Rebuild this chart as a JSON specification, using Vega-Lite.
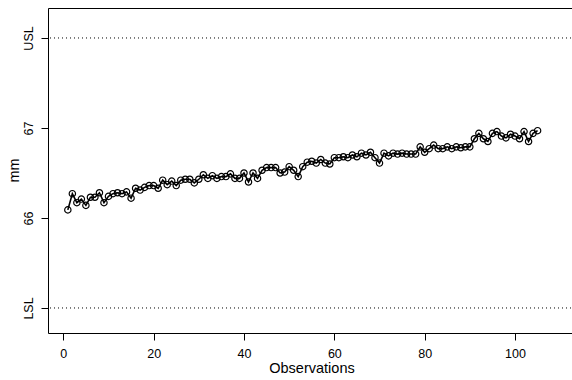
{
  "$schema": "https://vega.github.io/schema/vega-lite/v6.json",
  "autosize": {"type": "none"},
  "padding": {"left": 48, "top": 8, "right": 0, "bottom": 47},
  "width": 527,
  "height": 325,
  "background": "white",
  "config": {
    "font": "Liberation Sans",
    "view": {"stroke": "black", "strokeWidth": 1},
    "axis": {"grid": false, "domain": false, "tickColor": "black", "tickSize": 7, "labelColor": "black", "titleColor": "black", "labelFont": "Liberation Sans", "titleFont": "Liberation Sans", "labelFontSize": 12.5, "titleFontSize": 14.5, "titleFontWeight": "normal"}
  },
  "datasets": {
    "obs": [
      {"obs":1,"mm":66.09},{"obs":2,"mm":66.27},{"obs":3,"mm":66.17},{"obs":4,"mm":66.21},{"obs":5,"mm":66.14},
      {"obs":6,"mm":66.23},{"obs":7,"mm":66.23},{"obs":8,"mm":66.28},{"obs":9,"mm":66.17},{"obs":10,"mm":66.24},
      {"obs":11,"mm":66.27},{"obs":12,"mm":66.28},{"obs":13,"mm":66.27},{"obs":14,"mm":66.29},{"obs":15,"mm":66.22},
      {"obs":16,"mm":66.33},{"obs":17,"mm":66.31},{"obs":18,"mm":66.34},{"obs":19,"mm":66.36},{"obs":20,"mm":66.36},
      {"obs":21,"mm":66.33},{"obs":22,"mm":66.42},{"obs":23,"mm":66.37},{"obs":24,"mm":66.41},{"obs":25,"mm":66.36},
      {"obs":26,"mm":66.42},{"obs":27,"mm":66.43},{"obs":28,"mm":66.43},{"obs":29,"mm":66.39},{"obs":30,"mm":66.43},
      {"obs":31,"mm":66.48},{"obs":32,"mm":66.44},{"obs":33,"mm":66.47},{"obs":34,"mm":66.44},{"obs":35,"mm":66.46},
      {"obs":36,"mm":66.46},{"obs":37,"mm":66.49},{"obs":38,"mm":66.44},{"obs":39,"mm":66.44},{"obs":40,"mm":66.5},
      {"obs":41,"mm":66.4},{"obs":42,"mm":66.5},{"obs":43,"mm":66.44},{"obs":44,"mm":66.53},{"obs":45,"mm":66.56},
      {"obs":46,"mm":66.56},{"obs":47,"mm":66.56},{"obs":48,"mm":66.5},{"obs":49,"mm":66.51},{"obs":50,"mm":66.57},
      {"obs":51,"mm":66.53},{"obs":52,"mm":66.46},{"obs":53,"mm":66.57},{"obs":54,"mm":66.62},{"obs":55,"mm":66.63},
      {"obs":56,"mm":66.61},{"obs":57,"mm":66.65},{"obs":58,"mm":66.61},{"obs":59,"mm":66.6},{"obs":60,"mm":66.67},
      {"obs":61,"mm":66.67},{"obs":62,"mm":66.68},{"obs":63,"mm":66.67},{"obs":64,"mm":66.7},{"obs":65,"mm":66.68},
      {"obs":66,"mm":66.72},{"obs":67,"mm":66.7},{"obs":68,"mm":66.73},{"obs":69,"mm":66.67},{"obs":70,"mm":66.61},
      {"obs":71,"mm":66.72},{"obs":72,"mm":66.69},{"obs":73,"mm":66.72},{"obs":74,"mm":66.71},{"obs":75,"mm":66.72},
      {"obs":76,"mm":66.71},{"obs":77,"mm":66.71},{"obs":78,"mm":66.71},{"obs":79,"mm":66.79},{"obs":80,"mm":66.73},
      {"obs":81,"mm":66.77},{"obs":82,"mm":66.81},{"obs":83,"mm":66.77},{"obs":84,"mm":66.77},{"obs":85,"mm":66.79},
      {"obs":86,"mm":66.77},{"obs":87,"mm":66.79},{"obs":88,"mm":66.78},{"obs":89,"mm":66.79},{"obs":90,"mm":66.79},
      {"obs":91,"mm":66.88},{"obs":92,"mm":66.94},{"obs":93,"mm":66.88},{"obs":94,"mm":66.85},{"obs":95,"mm":66.94},
      {"obs":96,"mm":66.96},{"obs":97,"mm":66.91},{"obs":98,"mm":66.89},{"obs":99,"mm":66.93},{"obs":100,"mm":66.91},
      {"obs":101,"mm":66.88},{"obs":102,"mm":66.96},{"obs":103,"mm":66.85},{"obs":104,"mm":66.94},{"obs":105,"mm":66.97}
    ],
    "limits": [{"name":"LSL","limit":65},{"name":"USL","limit":68}]
  },
  "layer": [
    {
      "data": {"name": "limits"},
      "mark": {"type": "rule", "color": "black", "strokeWidth": 1, "strokeDash": [1, 3]},
      "encoding": {
        "y": {"field": "limit", "type": "quantitative", "scale": {"domain": [64.722, 68.333], "nice": false, "zero": false}}
      }
    },
    {
      "data": {"name": "obs"},
      "mark": {"type": "line", "color": "black", "strokeWidth": 1.6},
      "encoding": {
        "x": {"field": "obs", "type": "quantitative", "scale": {"domain": [-3.39, 113.28], "nice": false, "zero": false},
              "axis": {"values": [0, 20, 40, 60, 80, 100], "title": "Observations", "labelPadding": 7, "titlePadding": 2}},
        "y": {"field": "mm", "type": "quantitative", "scale": {"domain": [64.722, 68.333], "nice": false, "zero": false},
              "axis": {"values": [65, 66, 67, 68], "title": "mm", "labelAngle": 270, "labelAlign": "center", "labelBaseline": "bottom", "labelPadding": 6,
                       "titleX": -34, "titleY": 162, "titleAngle": 270, "titleAlign": "center", "titleBaseline": "middle",
                       "labelExpr": "datum.value == 65 ? 'LSL' : datum.value == 68 ? 'USL' : format(datum.value, 'd')"}}
      }
    },
    {
      "data": {"name": "obs"},
      "mark": {"type": "point", "shape": "circle", "filled": false, "color": "black", "strokeWidth": 1.2, "size": 40, "opacity": 1},
      "encoding": {
        "x": {"field": "obs", "type": "quantitative"},
        "y": {"field": "mm", "type": "quantitative"}
      }
    }
  ]
}
